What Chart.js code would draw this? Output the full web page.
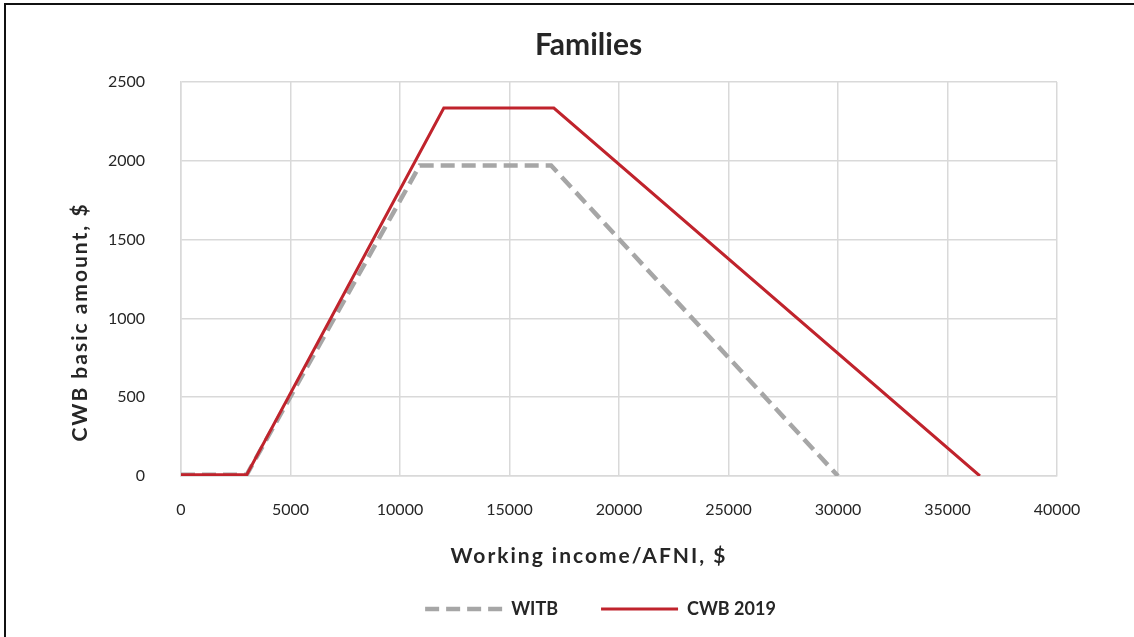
<!DOCTYPE html>
<html>
<head>
<meta charset="utf-8">
<script src="https://cdn.jsdelivr.net/npm/chart.js@4.4.1/dist/chart.umd.min.js"></script>
<style>
  html, body { margin: 0; padding: 0; background: #fff; overflow: hidden; }
  body { width: 1134px; height: 637px; position: relative; }
  #wrap { position: absolute; left: 0; top: 0; width: 1176px; height: 637px; }
  #frame { position: absolute; left: 4px; top: 3px; width: 1200px; height: 700px;
           border-left: 2px solid #111; border-top: 2px solid #111; pointer-events: none; }
</style>
</head>
<body>
<div id="wrap"><canvas id="c" width="1176" height="637"></canvas></div>
<div id="frame"></div>
<script>
// ---- data ----
const chartTitle = "Families";
const xAxisTitle = "Working income/AFNI, $";
const yAxisTitle = "CWB basic amount, $";
const seriesNames = ["WITB", "CWB 2019"];
const witbIncome = [0, 3000, 10900, 16900, 30000];
const witbAmount = [8, 8, 1970, 1970, 0];
const cwbIncome  = [0, 3000, 12000, 17025, 36480];
const cwbAmount  = [8, 8, 2335, 2335, 0];
const xTicks = [0, 5000, 10000, 15000, 20000, 25000, 30000, 35000, 40000];
const yTicks = [0, 500, 1000, 1500, 2000, 2500];

const toPoints = (xs, ys) => xs.map((x, i) => ({ x: x, y: ys[i] }));
const FONT = "Lato, 'Open Sans', sans-serif";
const TXT = "#262626";

const axisTitles = {
  id: "axisTitles",
  afterLayout(chart) {
    // centre title and legend where the reference has them
    if (chart.titleBlock) { chart.titleBlock.left += 60; chart.titleBlock.right += 60; }
    if (chart.legend) { chart.legend.left += 72; chart.legend.right += 72; }
  },
  afterDraw(chart) {
    const ctx = chart.ctx, a = chart.chartArea;
    ctx.save();
    ctx.fillStyle = TXT;
    ctx.font = "bold 21px " + FONT;
    ctx.letterSpacing = "2px";
    ctx.textAlign = "center";
    ctx.textBaseline = "middle";
    ctx.fillText(xAxisTitle, a.left + 408, a.bottom + 80);
    ctx.translate(a.left - 101, a.bottom - 154);
    ctx.rotate(-Math.PI / 2);
    ctx.fillText(yAxisTitle, 0, 0);
    ctx.restore();
  }
};

new Chart(document.getElementById("c"), {
  type: "line",
  data: {
    datasets: [
      {
        label: seriesNames[0],
        data: toPoints(witbIncome, witbAmount),
        borderColor: "#a6a6a6",
        backgroundColor: "#a6a6a6",
        borderWidth: 4.5,
        borderDash: [14, 7],
        borderCapStyle: "butt",
        pointRadius: 0,
        tension: 0,
        order: 1
      },
      {
        label: seriesNames[1],
        data: toPoints(cwbIncome, cwbAmount),
        borderColor: "#c0232c",
        backgroundColor: "#c0232c",
        borderWidth: 3,
        pointRadius: 0,
        tension: 0,
        order: 0
      }
    ]
  },
  options: {
    responsive: false,
    animation: false,
    layout: { padding: { left: 0, right: 119, top: 0, bottom: 9 } },
    scales: {
      x: {
        type: "linear",
        min: xTicks[0],
        max: xTicks[xTicks.length - 1],
        afterBuildTicks: s => { s.ticks = xTicks.map(v => ({ value: v })); },
        afterFit: s => { s.height = 81; },
        grid: { color: "#d9d9d9", lineWidth: 1.5, drawTicks: false },
        border: { color: "#d9d9d9", width: 1.5 },
        ticks: { padding: 24, color: TXT, font: { family: FONT, size: 16 }, maxRotation: 0,
                 callback: v => String(v) }
      },
      y: {
        type: "linear",
        min: yTicks[0],
        max: yTicks[yTicks.length - 1],
        afterBuildTicks: s => { s.ticks = yTicks.map(v => ({ value: v })); },
        afterFit: s => { s.width = 181; },
        grid: { color: "#d9d9d9", lineWidth: 1.5, drawTicks: false },
        border: { color: "#d9d9d9", width: 1.5 },
        ticks: { padding: 36, color: TXT, font: { family: FONT, size: 16 },
                 callback: v => String(v) }
      }
    },
    plugins: {
      title: {
        display: true,
        text: chartTitle,
        color: TXT,
        font: { family: FONT, size: 30, weight: "bold" },
        padding: { top: 27, bottom: 19 }
      },
      legend: {
        position: "bottom",
        labels: {
          usePointStyle: true,
          pointStyle: "line",
          pointStyleWidth: 77,
          padding: 43,
          color: TXT,
          font: { family: FONT, size: 18, weight: "bold" },
          sort: (a, b) => a.datasetIndex - b.datasetIndex,
          generateLabels: chart => {
            const items = Chart.defaults.plugins.legend.labels.generateLabels(chart);
            return items.map(it => {
              const ds = chart.data.datasets[it.datasetIndex];
              it.lineDash = ds.borderDash || [];
              it.lineWidth = ds.borderWidth;
              it.strokeStyle = ds.borderColor;
              it.fillStyle = ds.borderColor;
              it.lineCap = "butt";
              return it;
            });
          }
        }
      },
      tooltip: { enabled: false }
    }
  },
  plugins: [axisTitles]
});
</script>
</body>
</html>
